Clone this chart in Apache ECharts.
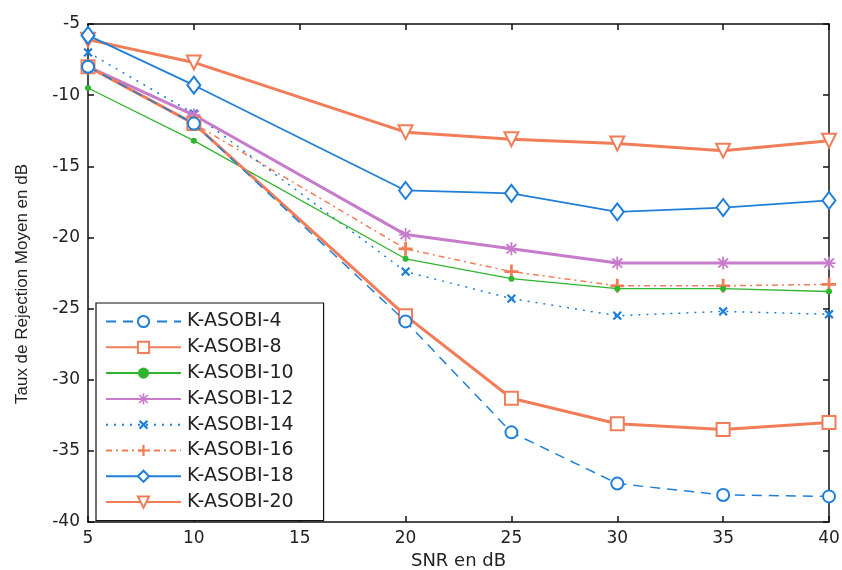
<!DOCTYPE html>
<html><head><meta charset="utf-8">
<script src="https://cdn.jsdelivr.net/npm/echarts@6/dist/echarts.min.js"></script>
<style>html,body{margin:0;padding:0;background:#fff}#c{width:842px;height:570px}</style>
</head><body><div id="c"></div>
<script>
const snr = [5, 10, 20, 25, 30, 35, 40];
const xTicks = [5, 10, 15, 20, 25, 30, 35, 40];
const yTicks = [-40, -35, -30, -25, -20, -15, -10, -5];
const names = ['K-ASOBI-4','K-ASOBI-8','K-ASOBI-10','K-ASOBI-12','K-ASOBI-14','K-ASOBI-16','K-ASOBI-18','K-ASOBI-20'];
const kasobi4  = [-8.0, -12.0, -25.9, -33.7, -37.3, -38.1, -38.2];
const kasobi8  = [-8.0, -12.0, -25.5, -31.3, -33.1, -33.5, -33.0];
const kasobi10 = [-9.5, -13.2, -21.5, -22.9, -23.6, -23.6, -23.8];
const kasobi12 = [-8.0, -11.4, -19.8, -20.8, -21.8, -21.8, -21.8];
const kasobi14 = [-7.0, -11.3, -22.4, -24.3, -25.5, -25.2, -25.4];
const kasobi16 = [-8.0, -12.0, -20.8, -22.4, -23.4, -23.4, -23.3];
const kasobi18 = [-5.8, -9.3, -16.7, -16.9, -18.2, -17.9, -17.4];
const kasobi20 = [-6.1, -7.7, -12.6, -13.1, -13.4, -13.9, -13.2];
const seriesValues = [kasobi4,kasobi8,kasobi10,kasobi12,kasobi14,kasobi16,kasobi18,kasobi20];
const xName = 'SNR en dB';
const yName = 'Taux de Rejection Moyen en dB';

const BLUE='#1f7fd8', ORANGE='#f07d58', GREEN='#2fb52f', MAG='#c67ccb';
const FONT='DejaVu Sans, Verdana, sans-serif';
const plusPath='path://M4,0 L6,0 L6,4 L10,4 L10,6 L6,6 L6,10 L4,10 L4,6 L0,6 L0,4 L4,4 Z';
const starPath='path://M4.3,0 L5.7,0 L5.7,3.3 L8.3,1.0 L9.3,2.0 L6.7,4.3 L10,4.3 L10,5.7 L6.7,5.7 L9.3,8.0 L8.3,9.0 L5.7,6.7 L5.7,10 L4.3,10 L4.3,6.7 L1.7,9.0 L0.7,8.0 L3.3,5.7 L0,5.7 L0,4.3 L3.3,4.3 L0.7,2.0 L1.7,1.0 L4.3,3.3 Z';
const styles = [
  {color:BLUE, width:1.5, type:[10,7], symbol:'emptyCircle', size:12, rot:0},
  {color:ORANGE, width:3, type:'solid', symbol:'emptyRect', size:13, rot:0},
  {color:GREEN, width:1.3, type:'solid', symbol:'circle', size:6, rot:0},
  {color:MAG, width:3, type:'solid', symbol:starPath, size:13, rot:0},
  {color:BLUE, width:1.5, type:[2,6], symbol:plusPath, size:11, rot:45},
  {color:ORANGE, width:1.5, type:[6,4,2,4], symbol:plusPath, size:14, rot:0},
  {color:BLUE, width:1.8, type:'solid', symbol:'emptyDiamond', size:[13,17], rot:0},
  {color:ORANGE, width:3, type:'solid', symbol:'emptyTriangle', size:14, rot:180}
];
const series = names.map((n,i)=>{
  const s=styles[i];
  return {
    name:n, type:'line', xAxisIndex:0, yAxisIndex:0,
    data: snr.map((x,j)=>[x, seriesValues[i][j]]),
    symbol:s.symbol, symbolSize:s.size, symbolRotate:s.rot, showAllSymbol:true,
    lineStyle:{color:s.color, width:s.width, type:s.type},
    itemStyle:{color:s.color, borderColor:s.color, borderWidth:(s.symbol.startsWith('path')||s.symbol==='circle')?0:1.8},
    emphasis:{disabled:true}, animation:false, z: 10 - i
  };
});
const tickFont = {fontFamily:FONT, fontSize:17, color:'#222'};
const axisCommon = {
  type:'value', interval:5,
  axisLine:{show:true, lineStyle:{color:'#111', width:1.5}},
  axisTick:{show:true, inside:true, length:6, lineStyle:{color:'#111', width:1.5}},
  splitLine:{show:false}
};
const chart = echarts.init(document.getElementById('c'), null, {renderer:'canvas'});
chart.setOption({
  animation:false,
  backgroundColor:'#fff',
  grid:{left:88, right:13, top:24, bottom:48, containLabel:false, outerBoundsMode:'none'},
  xAxis:[
    Object.assign({}, axisCommon, {min:5, max:40, position:'bottom',
      axisLabel:Object.assign({margin:8, customValues: xTicks}, tickFont),
      name:xName, nameLocation:'middle', nameGap:29,
      nameTextStyle:{fontFamily:FONT, fontSize:18, color:'#222'}}),
    Object.assign({}, axisCommon, {min:5, max:40, position:'top', axisLabel:{show:false}})
  ],
  yAxis:[
    Object.assign({}, axisCommon, {min:-40, max:-5, position:'left',
      axisLabel:Object.assign({margin:8, customValues: yTicks}, tickFont)}),
    Object.assign({}, axisCommon, {min:-40, max:-5, position:'right', axisLabel:{show:false}})
  ],
  graphic:[{
    type:'text', x:22, y:284, rotation:Math.PI/2,
    style:{text:yName, fontFamily:'Liberation Sans, Arial, sans-serif', fontSize:17, fill:'#222',
      align:'center', verticalAlign:'middle'}
  }],
  legend:{
    orient:'vertical', left:96, top:303,
    backgroundColor:'#fff', borderColor:'#111', borderWidth:1.2,
    padding:[9,30,9,9], itemWidth:75, itemHeight:14, itemGap:6.8,
    textStyle:{fontFamily:FONT, fontSize:19, color:'#222', padding:[0,0,0,1]},
    data:names
  },
  series: series
});
</script></body></html>
